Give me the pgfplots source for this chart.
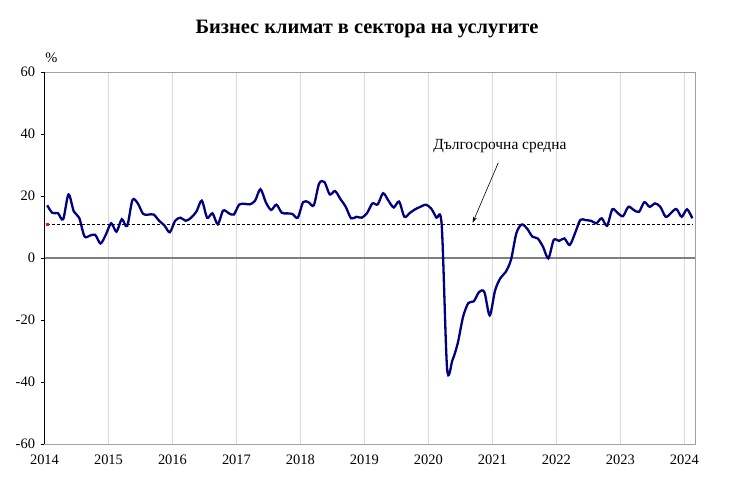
\documentclass[border=0pt]{standalone}
\usepackage{fontspec}
\setmainfont{Liberation Serif}
\usepackage{pgfplots}
\pgfplotsset{compat=1.18}
\usepackage{pgfplotstable}
\usetikzlibrary{arrows.meta}

\definecolor{seriesblue}{RGB}{0,0,128}
\definecolor{gridgray}{RGB}{217,217,217}
\definecolor{zerogray}{RGB}{128,128,128}
\definecolor{boxgray}{RGB}{160,160,160}

% monthly values, Jan 2014 - Feb 2024
\pgfplotstableread{
v
17
14.5
14.5
12.5
20.5
15
13
7
7.2
7.5
4.7
7.5
11.2
8.5
12.5
10.3
18.7
17.6
14.2
14
14
12
10.5
8.3
12
13
12
13
15
18.5
13
14.4
10.9
15.3
14.5
14
17.2
17.5
17.3
18.5
22.2
18
15.5
17.2
14.6
14.4
14.2
13
18
18
17
24
24.5
20.5
21.6
19
16.5
12.8
13.3
13
14.5
17.6
17.3
20.9
18.5
16.3
18.2
13.3
14.5
15.7
16.5
17.2
16
13
10.5
-35.5
-33
-27.5
-19
-14.5
-14
-11
-11
-18.5
-10.5
-6.5
-4.5
-0.5
8
10.8
9.5
6.9
6.3
3.6
-0.1
5.8
5.5
6.3
4.2
8
12.3
12.2
12
11.2
12.8
10.4
15.7
14.5
13.5
16.5
15.5
14.9
18
16.5
17.6
16.5
13.3
14.5
15.8
13.3
15.7
12.8
}\services

\begin{document}
\begin{tikzpicture}
\begin{axis}[
    name=ax,
    width=650.5bp, height=372bp,
    scale only axis,
    xmin=0, xmax=122,
    ymin=-60, ymax=60,
    xtick={0,12,...,120},
    xticklabels={2014,2015,2016,2017,2018,2019,2020,2021,2022,2023,2024},
    ytick={-60,-40,...,60},
    ytick pos=left,
    xtick pos=bottom,
    xmajorgrids,
    major grid style={gridgray, line width=0.8bp},
    axis line style={boxgray, line width=0.8bp},
    xtick style={draw=none},
    ytick style={black, line width=0.8bp},
    tick align=outside,
    major tick length=4bp,
    tick label style={font=\fontsize{14.5}{14.5}\selectfont},
    /pgf/number format/assume math mode=true,
    yticklabel style={xshift=-2bp},
    xticklabel style={yshift=-3bp},
    clip=false,
]
% zero line
\addplot[zerogray, line width=1.6bp] coordinates {(0,0) (122,0)};
% long-term average
\addplot[black, line width=0.6bp, dash pattern=on 3bp off 2bp,
    mark=square*, mark size=1bp, mark indices={1},
    mark options={solid, draw=magenta, fill=magenta}]
    coordinates {(0.5,10.9) (121.5,10.9)};
% business climate in services
\addplot[seriesblue, line width=2.3bp, smooth]
    table[x expr=\coordindex+0.5, y=v] {\services};
% left axis line
\draw[black, line width=1.2bp] (axis cs:0,-60) -- (axis cs:0,60);
% texts
\node[font=\fontsize{20.5}{20.5}\selectfont\bfseries] at (axis cs:60.5,74)
    {Бизнес климат в сектора на услугите};
\node[font=\fontsize{14.5}{14.5}\selectfont] at (axis cs:1.3,64.6) {\%};
\node[font=\fontsize{15.5}{15.5}\selectfont] at (axis cs:85.4,36.1)
    {Дългосрочна средна};
\draw[-{Stealth[length=6bp,width=4bp]}, line width=0.6bp]
    (axis cs:85.1,30.7) -- (axis cs:80.3,11.4);
\end{axis}
\path ([xshift=-44.5bp,yshift=-49bp]ax.south west)
    rectangle ([xshift=39bp,yshift=72bp]ax.north east);
\end{tikzpicture}
\end{document}
